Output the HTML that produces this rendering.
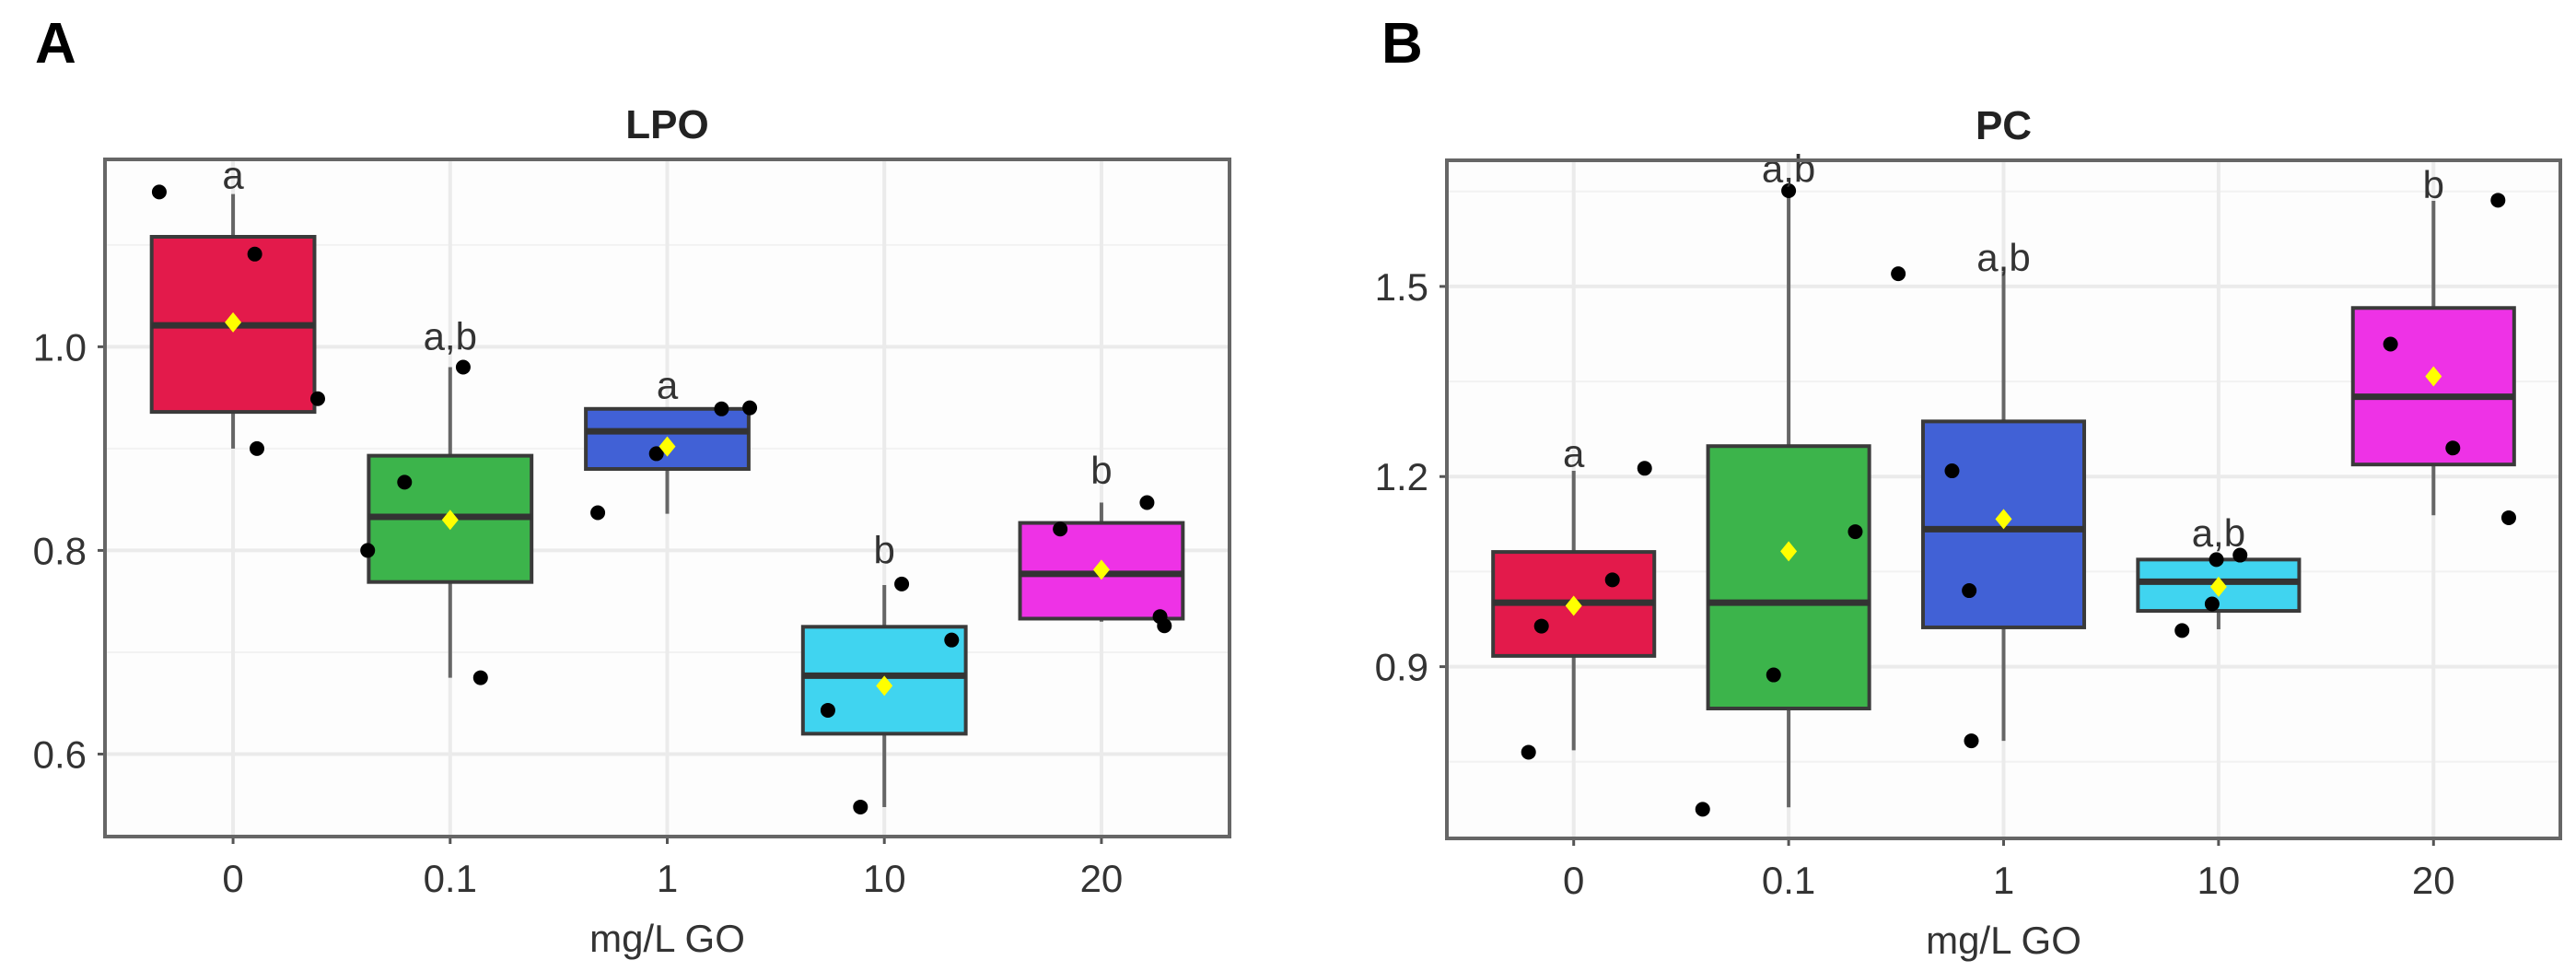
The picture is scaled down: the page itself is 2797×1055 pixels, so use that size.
<!DOCTYPE html>
<html><head><meta charset="utf-8">
<style>
html,body{margin:0;padding:0;background:#fff;}
svg{display:block;}
text{font-family:"Liberation Sans",sans-serif;}
</style></head>
<body>
<svg id="chart" width="2797" height="1055" viewBox="0 0 2797 1055" xmlns="http://www.w3.org/2000/svg">
<rect x="0" y="0" width="2797" height="1055" fill="#fff"/>
<text x="38" y="68" font-size="62" font-weight="bold" fill="#000">A</text>
<text x="1500" y="68" font-size="62" font-weight="bold" fill="#000">B</text>
</svg>
<script>
// Shared categories
const categories = ["0", "0.1", "1", "10", "20"];
const colors = ["#E31A4B", "#3CB44B", "#4161D6", "#40D4F0", "#EE32E6"];

// Panel A (LPO)
const lpoWhiskerHigh = [1.15, 0.98, 0.94, 0.766, 0.847];
const lpoQ3 = [1.108, 0.893, 0.939, 0.725, 0.827];
const lpoMedian = [1.021, 0.833, 0.917, 0.677, 0.777];
const lpoQ1 = [0.936, 0.769, 0.880, 0.620, 0.733];
const lpoWhiskerLow = [0.90, 0.675, 0.836, 0.548, 0.73];
const lpoMean = [1.024, 0.83, 0.902, 0.667, 0.781];
const lpoPoints = [[1.152, 1.091, 0.949, 0.90], [0.98, 0.867, 0.80, 0.675], [0.939, 0.94, 0.895, 0.837], [0.767, 0.712, 0.643, 0.548], [0.821, 0.847, 0.735, 0.726]];
const lpoJitter = [[-0.34, 0.10, 0.39, 0.11], [0.06, -0.21, -0.38, 0.14], [0.25, 0.38, -0.05, -0.32], [0.08, 0.31, -0.26, -0.11], [-0.19, 0.21, 0.27, 0.29]];
const lpoLetters = ["a", "a,b", "a", "b", "b"];
const lpoLetterValue = [1.168, 1.01, 0.962, 0.80, 0.878];
const lpoTicks = [0.6, 0.8, 1.0];
const lpoTickLabels = ["0.6", "0.8", "1.0"];
const lpoMinor = [0.7, 0.9, 1.1];

// Panel B (PC)
const pcWhiskerHigh = [1.209, 1.651, 1.524, 1.069, 1.635];
const pcQ3 = [1.081, 1.248, 1.287, 1.069, 1.466];
const pcMedian = [1.001, 1.001, 1.117, 1.034, 1.326];
const pcQ1 = [0.917, 0.834, 0.962, 0.988, 1.219];
const pcWhiskerLow = [0.768, 0.678, 0.783, 0.959, 1.139];
const pcMean = [0.996, 1.082, 1.133, 1.026, 1.358];
const pcPoints = [[1.213, 1.037, 0.964, 0.765], [1.651, 1.113, 0.887, 0.675], [1.52, 1.209, 1.02, 0.783], [1.069, 1.076, 0.999, 0.957], [1.636, 1.409, 1.245, 1.135]];
const pcJitter = [[0.33, 0.18, -0.15, -0.21], [0.0, 0.31, -0.07, -0.40], [-0.49, -0.24, -0.16, -0.15], [-0.01, 0.10, -0.03, -0.17], [0.30, -0.20, 0.09, 0.35]];
const pcLetters = ["a", "a,b", "a,b", "a,b", "b"];
const pcLetterValue = [1.236, 1.685, 1.545, 1.11, 1.66];
const pcTicks = [0.9, 1.2, 1.5];
const pcTickLabels = ["0.9", "1.2", "1.5"];
const pcMinor = [0.75, 1.05, 1.35, 1.65];

const NS = "http://www.w3.org/2000/svg";
const svg = document.getElementById("chart");
function mk(tag, attrs, parent) {
  const e = document.createElementNS(NS, tag);
  for (const k in attrs) e.setAttribute(k, attrs[k]);
  (parent || svg).appendChild(e);
  return e;
}

function panel(cfg) {
  const g = mk("g", {});
  
  
  const L = cfg.left, R = cfg.right, T = cfg.top, B = cfg.bottom;
  const n = categories.length;
  const unit = (R - L) / (n - 1 + 2 * 0.59);
  const xs = i => L + unit * (0.59 + i);
  const ys = v => B - (v - cfg.ymin) / (cfg.ymax - cfg.ymin) * (B - T);

  mk("rect", {x: L, y: T, width: R - L, height: B - T, fill: "#fdfdfd"}, g);
  cfg.minor.forEach(v => {
    const l = mk("line", {x1: L, x2: R, y1: ys(v), y2: ys(v), stroke: "#f2f2f2", "stroke-width": 2}, g);
    
    
  });
  cfg.ticks.forEach((v, i) => {
    const l = mk("line", {x1: L, x2: R, y1: ys(v), y2: ys(v), stroke: "#ebebeb", "stroke-width": 4}, g);
    
    
    mk("line", {x1: L - 8, x2: L, y1: ys(v), y2: ys(v), stroke: "#555", "stroke-width": 3}, g);
    const t = mk("text", {x: L - 20, y: ys(v) + 15, "font-size": 42, "text-anchor": "end", fill: "#333"}, g);
    t.textContent = cfg.tickLabels[i];
    
    
  });
  categories.forEach((c, i) => {
    const l = mk("line", {x1: xs(i), x2: xs(i), y1: T, y2: B, stroke: "#ebebeb", "stroke-width": 4}, g);
    
    
    mk("line", {x1: xs(i), x2: xs(i), y1: B, y2: B + 8, stroke: "#555", "stroke-width": 3}, g);
    const t = mk("text", {x: xs(i), y: B + 60, "font-size": 42, "text-anchor": "middle", fill: "#333"}, g);
    t.textContent = c;
    
    
  });

  const bw = unit * 0.75;
  categories.forEach((c, i) => {
    const x = xs(i);
    const bg = mk("g", {}, g);
    
    
    mk("line", {x1: x, x2: x, y1: ys(cfg.wh[i]), y2: ys(cfg.q3[i]), stroke: "#666", "stroke-width": 4}, bg);
    mk("line", {x1: x, x2: x, y1: ys(cfg.q1[i]), y2: ys(cfg.wl[i]), stroke: "#666", "stroke-width": 4}, bg);
    mk("rect", {x: x - bw / 2, y: ys(cfg.q3[i]), width: bw, height: ys(cfg.q1[i]) - ys(cfg.q3[i]), fill: colors[i], stroke: "#3a3a3a", "stroke-width": 4}, bg);
    mk("line", {x1: x - bw / 2, x2: x + bw / 2, y1: ys(cfg.med[i]), y2: ys(cfg.med[i]), stroke: "#333", "stroke-width": 7}, bg);
    cfg.pts[i].forEach((v, j) => {
      const p = mk("circle", {cx: x + cfg.jit[i][j] * unit, cy: ys(v), r: 8, fill: "#000"}, bg);
      
      
    });
    const my = ys(cfg.mean[i]);
    const d = mk("polygon", {points: `${x},${my - 11} ${x + 9},${my} ${x},${my + 11} ${x - 9},${my}`, fill: "#ffff00"}, bg);
    
    
    const t = mk("text", {x: x, y: ys(cfg.letterV[i]) + 14, "font-size": 42, "text-anchor": "middle", fill: "#333"}, g);
    t.textContent = cfg.letters[i];
    
    
  });

  const f = mk("rect", {x: L, y: T, width: R - L, height: B - T, fill: "none", stroke: "#666", "stroke-width": 4}, g);
  
  
  const tt = mk("text", {x: (L + R) / 2, y: T - 23, "font-size": 44, "font-weight": "bold", "text-anchor": "middle", fill: "#222"}, g);
  tt.textContent = cfg.title;
  
  
  const xt = mk("text", {x: (L + R) / 2, y: B + 125, "font-size": 42, "text-anchor": "middle", fill: "#333"}, g);
  xt.textContent = "mg/L GO";
  
  
}

panel({name: "lpo-panel", title: "LPO", left: 114, right: 1335, top: 173, bottom: 908, ymin: 0.519, ymax: 1.184,
  wh: lpoWhiskerHigh, q3: lpoQ3, med: lpoMedian, q1: lpoQ1, wl: lpoWhiskerLow, mean: lpoMean, pts: lpoPoints, jit: lpoJitter,
  letters: lpoLetters, letterV: lpoLetterValue, ticks: lpoTicks, tickLabels: lpoTickLabels, minor: lpoMinor});
panel({name: "pc-panel", title: "PC", left: 1571, right: 2780, top: 174, bottom: 910, ymin: 0.629, ymax: 1.699,
  wh: pcWhiskerHigh, q3: pcQ3, med: pcMedian, q1: pcQ1, wl: pcWhiskerLow, mean: pcMean, pts: pcPoints, jit: pcJitter,
  letters: pcLetters, letterV: pcLetterValue, ticks: pcTicks, tickLabels: pcTickLabels, minor: pcMinor});
</script>
</body></html>
